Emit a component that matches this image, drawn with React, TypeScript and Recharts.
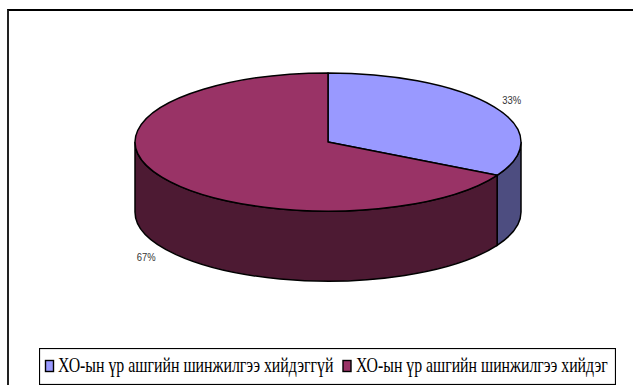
import React from "react";
import { PieChart, Pie, Legend, Cell } from "recharts";

// Household shares, with the top and side colour of each slice.
const categories = [
  "ХО-ын үр ашгийн шинжилгээ хийдэггүй",
  "ХО-ын үр ашгийн шинжилгээ хийдэг",
];
const values = [33, 67];
const topColors = ["#9999FF", "#993366"];
const sideColors = ["#4D4D80", "#4D1A33"];

const rows = categories.map((name, i) => ({
  name,
  value: values[i],
  side: sideColors[i],
}));

// Vertical squash of the disc and the height of its wall.
const TILT = 0.358;
const DEPTH = 70;

const rad = (deg: number) => (deg * Math.PI) / 180;

const onRim = (cx: number, cy: number, rx: number, deg: number) => ({
  x: cx + rx * Math.cos(rad(deg)),
  y: cy - rx * TILT * Math.sin(rad(deg)),
});

function DiscSlice(props: any) {
  const { cx, cy, outerRadius: rx, startAngle, endAngle, fill, payload } = props;
  const ry = rx * TILT;
  const a = onRim(cx, cy, rx, startAngle);
  const b = onRim(cx, cy, rx, endAngle);
  const large = Math.abs(startAngle - endAngle) > 180 ? 1 : 0;
  const top = `M${cx},${cy} L${a.x},${a.y} A${rx},${ry} 0 ${large} 1 ${b.x},${b.y} Z`;

  // Only the part of the rim facing the viewer (math angles 0 to -180) has a wall.
  const from = Math.min(startAngle, 0);
  const to = Math.max(endAngle, -180);
  let wall = null;
  if (from > to) {
    const p = onRim(cx, cy, rx, from);
    const q = onRim(cx, cy, rx, to);
    wall = (
      <path
        d={`M${p.x},${p.y} A${rx},${ry} 0 0 1 ${q.x},${q.y} L${q.x},${q.y + DEPTH} A${rx},${ry} 0 0 0 ${p.x},${p.y + DEPTH} Z`}
        fill={payload.side}
        stroke="#000"
        strokeWidth={1.5}
      />
    );
  }
  return (
    <g>
      {wall}
      <path d={top} fill={fill} stroke="#000" strokeWidth={1.5} strokeLinejoin="round" />
    </g>
  );
}

function PercentLabel(props: any) {
  const { cx, cy, outerRadius: rx, midAngle, percent } = props;
  const s = Math.sin(rad(midAngle));
  const x = cx + rx * 1.1 * Math.cos(rad(midAngle));
  const y = cy - rx * TILT * 1.2 * s + (s < 0 ? DEPTH + 3 : 1);
  return (
    <text
      transform={`translate(${x + 1},${y}) scale(0.9,1)`}
      textAnchor="middle"
      dominantBaseline="central"
      fontFamily="Liberation Sans"
      fontSize={10.5}
      fill="#333"
    >
      {`${Math.round(percent * 100)}%`}
    </text>
  );
}

// Boxed legend: key squares and narrowed serif captions on one row.
function LegendBox({ payload }: any) {
  const items = payload ?? [];
  const keyX = [6.5, 304];
  const textX = [19, 317];
  const squeeze = [0.793, 0.79];
  return (
    <svg width={577} height={37} style={{ display: "block" }}>
      <rect x={0.5} y={0.5} width={576} height={36} fill="#fff" stroke="#000" strokeWidth={1.2} />
      {items.map((it: any, i: number) => (
        <g key={it.value}>
          <rect x={keyX[i]} y={12.5} width={8} height={11} fill={topColors[i]} stroke="#000" strokeWidth={1.4} />
          <text
            transform={`translate(${textX[i]},24) scale(${squeeze[i]},1)`}
            fontFamily="Liberation Serif"
            fontSize={20}
            fill="#000"
          >
            {it.value}
          </text>
        </g>
      ))}
    </svg>
  );
}

export default function App() {
  return (
    <div style={{ position: "absolute", left: 0, top: 0, width: 633, height: 385, background: "#fff", overflow: "hidden" }}>
      <div style={{ position: "absolute", left: 7, top: 9, width: 626, height: 376, borderLeft: "2px solid #222", borderTop: "2px solid #000", boxSizing: "border-box" }} />
      <PieChart
        width={633}
        height={385}
        margin={{ top: 0, right: 0, bottom: 0, left: 0 }}
        style={{ position: "absolute", left: 0, top: 0 }}
      >
        <Pie
          data={rows}
          dataKey="value"
          nameKey="name"
          cx={328}
          cy={142}
          outerRadius={193}
          startAngle={90}
          endAngle={-270}
          paddingAngle={0}
          shape={DiscSlice}
          label={PercentLabel}
          labelLine={false}
          isAnimationActive={false}
        >
          {rows.map((r, i) => (
            <Cell key={r.name} fill={topColors[i]} />
          ))}
        </Pie>
        <Legend
          content={LegendBox}
          itemSorter={null}
          wrapperStyle={{ position: "absolute", left: 39, top: 348, width: 577, height: 37 }}
        />
      </PieChart>
    </div>
  );
}
